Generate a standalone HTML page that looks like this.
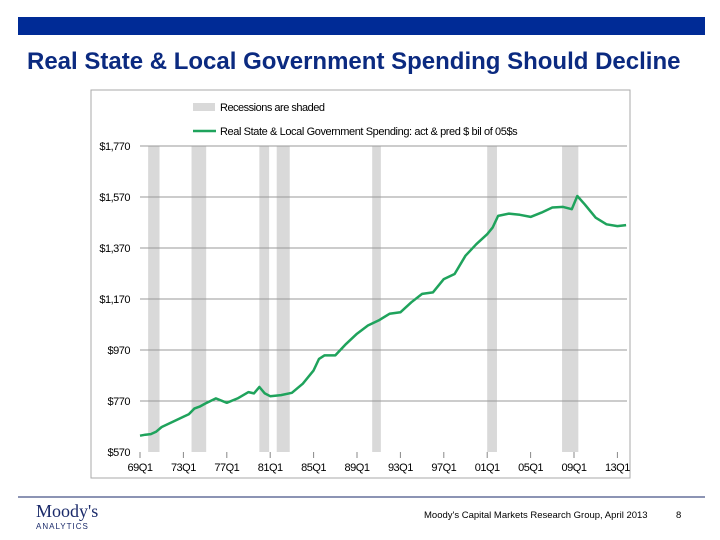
<!DOCTYPE html>
<html><head><meta charset="utf-8"><style>
body{margin:0;width:720px;height:540px;background:#fff;font-family:"Liberation Sans",sans-serif;position:relative;overflow:hidden}
</style></head><body>
<div style="position:absolute;left:18px;top:17px;width:687px;height:18px;background:#002b96"></div>
<div style="position:absolute;left:27px;top:48px;font-size:24px;font-weight:bold;color:#0b2a80;white-space:nowrap">Real State &amp; Local Government Spending Should Decline</div>
<svg width="720" height="540" style="position:absolute;left:0;top:0" font-family="Liberation Sans, sans-serif">
<rect x="91" y="90" width="539" height="388" fill="none" stroke="#aaa" stroke-width="1"/>
<g id="rec"></g><g id="grid"></g><g id="xt"></g>
<path id="line" fill="none" stroke="#1fa35c" stroke-width="2.5" stroke-linejoin="round"/>
<rect x="193" y="103" width="22" height="8" fill="#d9d9d9"/>
<text x="220" y="111" font-size="11" letter-spacing="-0.5">Recessions are shaded</text>
<line x1="193" y1="131" x2="216" y2="131" stroke="#1fa35c" stroke-width="2.5"/>
<text x="220" y="135" font-size="11" letter-spacing="-0.4">Real State &amp; Local Government Spending: act &amp; pred $ bil of 05$s</text>
<line x1="18" y1="497" x2="705" y2="497" stroke="#1a2a6a" stroke-width="1"/>
<text x="36" y="517" font-size="18" font-family="Liberation Serif, serif" fill="#1a2a6a">Moody's</text>
<text x="36" y="529" font-size="8" fill="#1a2a6a" letter-spacing="1">ANALYTICS</text>
<text x="424" y="518" font-size="9.5">Moody's Capital Markets Research Group,  April 2013</text>
<text x="676" y="518" font-size="9.5">8</text>
</svg>
<script>
const yTicks=[570,770,970,1170,1370,1570,1770];
const yLabels=["$570","$770","$970","$1,170","$1,370","$1,570","$1,770"];
const xTickYears=[1969,1973,1977,1981,1985,1989,1993,1997,2001,2005,2009,2013];
const xLabels=["69Q1","73Q1","77Q1","81Q1","85Q1","89Q1","93Q1","97Q1","01Q1","05Q1","09Q1","13Q1"];
const recStart=[1969.75,1973.75,1980.0,1981.6,1990.4,2001.0,2007.9];
const recEnd=[1970.8,1975.1,1980.9,1982.8,1991.2,2001.9,2009.4];
const years=[1969,1969.5,1970,1970.5,1971,1972,1973,1973.5,1974,1974.5,1975,1976,1977,1978,1979,1979.5,1980,1980.5,1981,1982,1983,1984,1985,1985.5,1986,1987,1988,1989,1990,1991,1992,1993,1994,1995,1996,1997,1998,1999,2000,2001,2001.5,2002,2003,2004,2005,2006,2007,2008,2008.8,2009.3,2010,2011,2012,2013,2013.8];
const values=[634,638,640,650,668,688,708,718,740,748,760,780,763,780,805,800,825,800,789,793,802,838,890,935,949,949,994,1034,1066,1086,1112,1118,1157,1190,1196,1248,1268,1340,1385,1424,1450,1496,1505,1500,1492,1509,1529,1531,1522,1574,1541,1489,1463,1456,1460];
const X=y=>140+(y-1969)*10.85;
const Y=v=>452-(v-570)*306/1200;
const NS="http://www.w3.org/2000/svg";
function mk(t,p,a){const e=document.createElementNS(NS,t);for(const k in a)e.setAttribute(k,a[k]);p.appendChild(e);return e;}
const rec=document.getElementById('rec'),grid=document.getElementById('grid'),xt=document.getElementById('xt');
recStart.forEach((s,i)=>{const r=mk('rect',rec,{x:X(s),y:146,width:X(recEnd[i])-X(s),height:306,fill:'#d9d9d9'});

});
yTicks.forEach((v,i)=>{
 if(i>0){const l=mk('line',grid,{x1:140,x2:627,y1:Y(v),y2:Y(v),stroke:'#999','stroke-width':1});
 
 }
 const t=mk('text',grid,{x:130,y:Y(v)+4,'font-size':11,'text-anchor':'end','letter-spacing':'-0.5'});t.textContent=yLabels[i];
 
 });
xTickYears.forEach((y,i)=>{
 const l=mk('line',xt,{x1:X(y),x2:X(y),y1:452,y2:458,stroke:'#888'});
 
 
 const t=mk('text',xt,{x:X(y),y:471,'font-size':11,'text-anchor':'middle','letter-spacing':'-0.5'});t.textContent=xLabels[i];
 
 });
document.getElementById('line').setAttribute('d',years.map((y,i)=>(i?'L':'M')+X(y).toFixed(1)+','+Y(values[i]).toFixed(1)).join(''));
</script>
</body></html>
